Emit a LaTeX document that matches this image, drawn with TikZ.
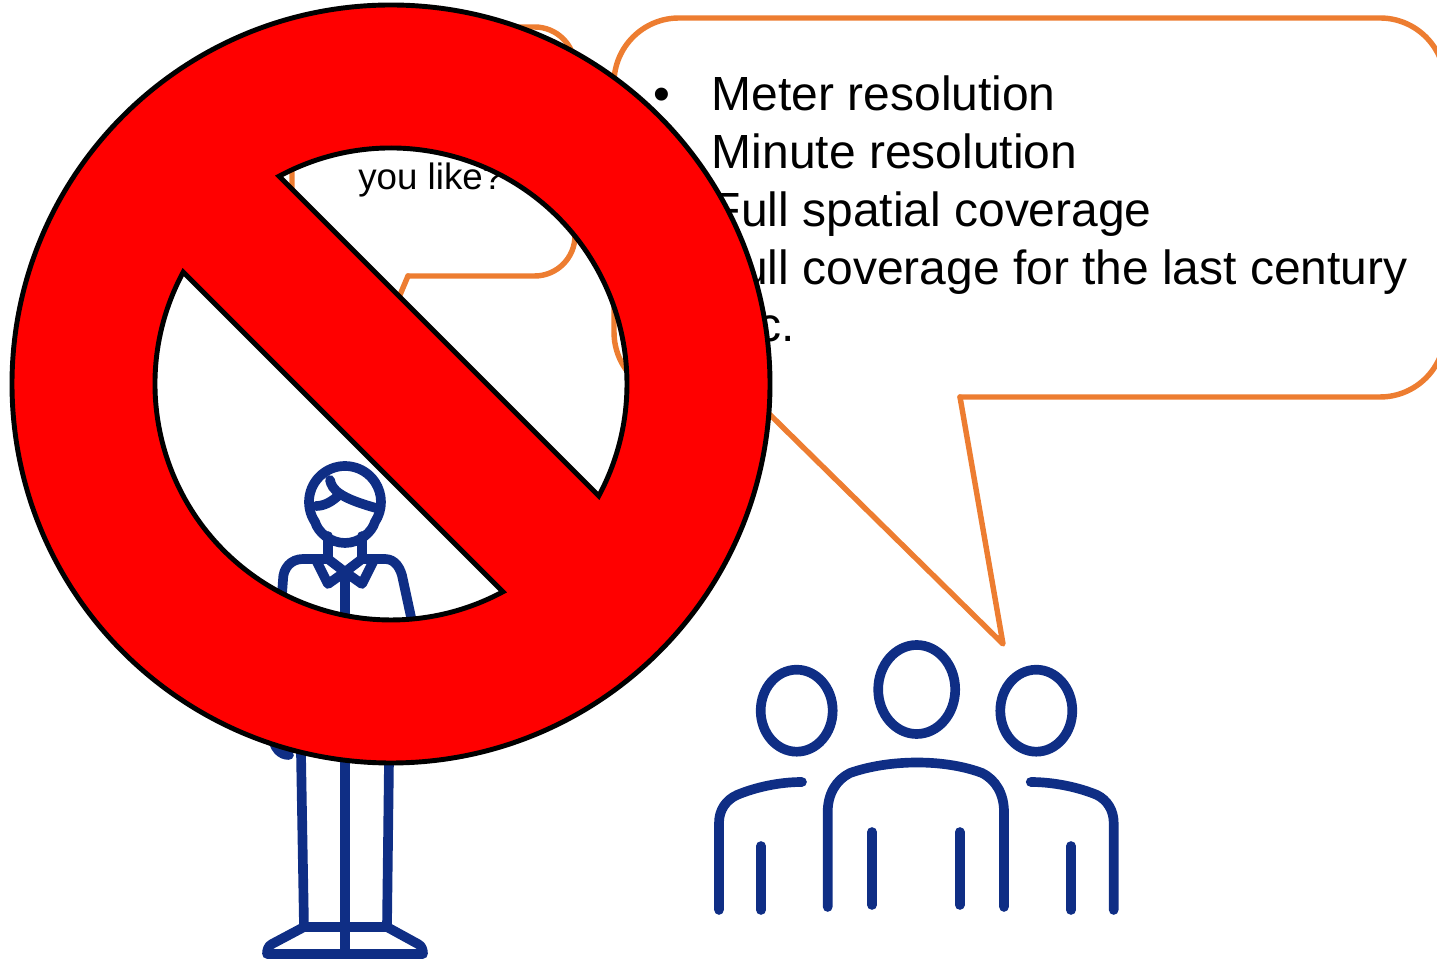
\documentclass[tikz,border=0pt]{standalone}
\usepackage{xcolor}
\usepackage{fontspec}
\setmainfont{Liberation Sans}
\definecolor{calloutorange}{HTML}{ED7D31}
\definecolor{figurenavy}{HTML}{0F2E85}
\newcommand{\bulletline}[1]{\makebox[33pt][l]{\textbullet}#1}

\begin{document}
\begin{tikzpicture}[
  x=0.02cm, y=0.02cm,
  callout/.style={draw=calloutorange, line width=3.1pt, line join=round, line cap=round},
  icon/.style={draw=figurenavy, line width=5.5pt, line cap=round, line join=round},
  listtext/.style={font=\fontsize{27.3}{32.9}\selectfont, align=left, inner sep=0pt},
  asktext/.style={font=\fontsize{20.9}{24}\selectfont, inner sep=0pt},
  forbid/.style={fill=red, draw=black, line width=2.8pt, even odd rule}
]
\useasboundingbox (0,0) rectangle (1437,960);

% speech bubbles
\draw[callout, rounded corners=23pt] (408,684) -- (575,684) -- (575,933) -- (292,933) -- (292,684) -- (330,684);
\draw[callout] (330,684) -- (364,580) -- (408,684);
\draw[callout, rounded corners=37pt] (960,563) -- (1445,563) -- (1445,942) -- (614,942) -- (614,563) -- (752,563);
\draw[callout] (752,563) -- (1003,316) -- (960,563);

\node[asktext, anchor=base west] (ask) at (358,770.5) {you like?};
\node[listtext, anchor=north west] (wishes) at (653.5,884.5) {\bulletline{Meter resolution}\\\bulletline{Minute resolution}\\\bulletline{Full spatial coverage}\\\bulletline{Full coverage for the last century}\\\bulletline{Etc.}};

% single person
\draw[icon] (345,458) ++(213.7:36) arc[start angle=213.7, end angle=-33.7, radius=36]
  .. controls (372,428) and (360,417) .. (345,417) .. controls (330,417) and (318,428) .. cycle;
\draw[icon] (330,480) .. controls (332,470) and (340,462) .. (376,452);
\draw[icon] (316,454) .. controls (324,454) and (332,458) .. (340,466);
\draw[icon] (328,424) -- (328,401) -- (303,401) .. controls (291,401) and (283,392) .. (283,380) -- (272,225) .. controls (274,212) and (280,205) .. (289,205);
\draw[icon] (362,424) -- (362,401) -- (385,401) .. controls (395,401) and (401,392) .. (403,380) -- (411,343) -- (418,225);
\draw[icon] (316,400) -- (328,376) -- (345,388) -- (362,376) -- (374,400);
\draw[icon] (328,401) -- (345,388) -- (362,401);
\draw[icon] (345,388) -- (345,6);
\draw[icon] (301,207) -- (304,33) -- (272,16) .. controls (268,14) and (267,10) .. (267,6) -- (423,6) .. controls (423,10) and (422,14) .. (418,16) -- (387,33) -- (389,200);
\draw[icon] (304,33) -- (387,33);

% group of three
\draw[icon] (916.7,270.5) ellipse[x radius=38.5, y radius=44.5];
\draw[icon] (796.7,249.3) ellipse[x radius=36, y radius=41];
\draw[icon] (1036.3,249.3) ellipse[x radius=36, y radius=41];
\draw[icon] (827.7,53) -- (827.7,148) .. controls (827.7,166) and (836,180) .. (850,187) .. controls (890,201) and (945,201) .. (982,187) .. controls (996,180) and (1004,166) .. (1004,148) -- (1004,53);
\draw[icon] (872,128) -- (872,55);
\draw[icon] (959.7,128) -- (959.7,55);
\draw[icon] (719,50) -- (719,137) .. controls (719,150) and (726,160) .. (737,165) .. controls (756,173) and (780,178) .. (802,178);
\draw[icon] (761,114) -- (761,50);
\draw[icon] (1113.7,50) -- (1113.7,137) .. controls (1113.7,150) and (1107,160) .. (1097,165) .. controls (1078,173) and (1053,178) .. (1030.7,178);
\draw[icon] (1071,114) -- (1071,50);

% prohibition sign
\coordinate (signcentre) at (391,576);
\path[forbid] (signcentre) circle[radius=379]
  (signcentre) ++(118.3:236) arc[start angle=118.3, end angle=-28.3, radius=236] -- cycle
  (signcentre) ++(151.7:236) arc[start angle=151.7, end angle=298.3, radius=236] -- cycle;
\end{tikzpicture}
\end{document}
